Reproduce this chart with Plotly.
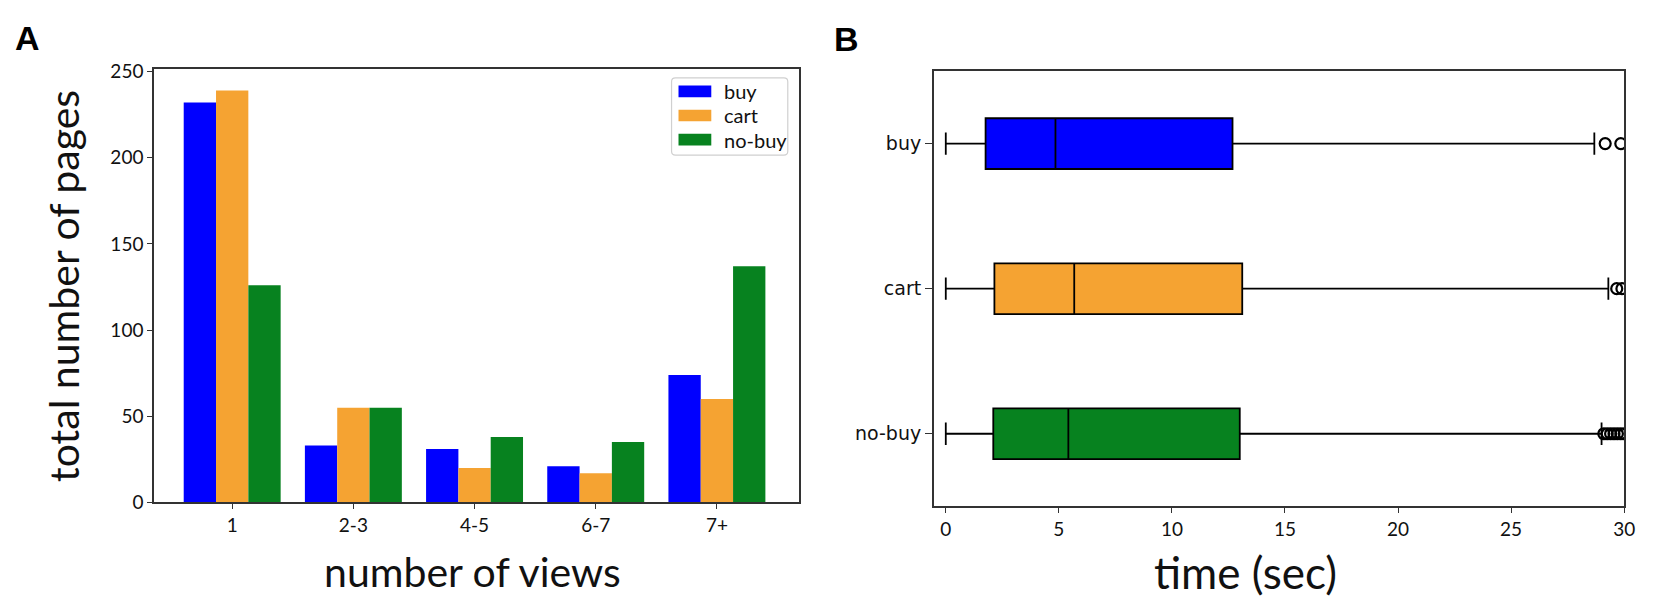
import plotly.graph_objects as go

# ---------------- data ----------------
view_bins = ['1', '2-3', '4-5', '6-7', '7+']
buy_counts = [232, 33, 31, 21, 74]
cart_counts = [239, 55, 20, 17, 60]
nobuy_counts = [126, 55, 38, 35, 137]

groups = ['buy', 'cart', 'no-buy']
q1_vals = [1.76, 2.15, 2.10]
median_vals = [4.85, 5.68, 5.42]
q3_vals = [12.68, 13.11, 13.00]
low_whisk = [0.0, 0.0, 0.0]
high_whisk = [28.68, 29.30, 29.00]
outliers_buy = [29.16, 29.85]
outliers_cart = [29.67, 29.90]
outliers_nobuy = [29.10, 29.25, 29.40, 29.55, 29.70, 29.85, 30.00]

y_ticks_left = [0, 50, 100, 150, 200, 250]
x_ticks_right = [0, 5, 10, 15, 20, 25, 30]

# ---------------- style ----------------
C_BLUE = '#0000FF'
C_ORANGE = '#F5A332'
C_GREEN = '#07821F'
AX = '#333333'
FONT_L = 'Lato, Carlito, Calibri, sans-serif'
FONT_R = 'DejaVu Sans, sans-serif'

W, H = 1654, 600


def px(x):
    return x / W


def py(y):
    return 1 - y / H


fig = go.Figure()

series = [('buy', buy_counts, C_BLUE), ('cart', cart_counts, C_ORANGE), ('no-buy', nobuy_counts, C_GREEN)]
for name, vals, col in series:
    fig.add_trace(go.Bar(x=view_bins, y=vals, name=name, marker=dict(color=col, line=dict(width=0)),
                         xaxis='x', yaxis='y', showlegend=False))

box_cols = [C_BLUE, C_ORANGE, C_GREEN]
for i, g in enumerate(groups):
    fig.add_trace(go.Box(
        y=[g], q1=[q1_vals[i]], median=[median_vals[i]], q3=[q3_vals[i]],
        lowerfence=[low_whisk[i]], upperfence=[high_whisk[i]],
        orientation='h', fillcolor=box_cols[i], line=dict(color='black', width=1.8),
        width=0.35, whiskerwidth=0.44, boxpoints=False, xaxis='x2', yaxis='y2', showlegend=False,
        hoverinfo='skip'))

for g, pts in zip(groups, [outliers_buy, outliers_cart, outliers_nobuy]):
    fig.add_trace(go.Scatter(x=pts, y=[g] * len(pts), mode='markers',
                             marker=dict(symbol='circle-open', size=11, color='black', line=dict(width=2.2)),
                             xaxis='x2', yaxis='y2', showlegend=False, cliponaxis=True))

axis_common = dict(showline=True, mirror=True, linecolor=AX, linewidth=1.6, ticks='outside', ticklen=5,
                   tickcolor=AX, tickwidth=1.3, showgrid=False, zeroline=False)

fig.update_layout(
    width=W, height=H, margin=dict(l=0, r=0, t=0, b=0),
    paper_bgcolor='white', plot_bgcolor='white',
    barmode='group', bargap=0.2, bargroupgap=0,
    xaxis=dict(domain=[px(147), px(796)], anchor='y', type='category', range=[-0.645, 4.675],
               tickfont=dict(family=FONT_L, size=19, color='#111'), **axis_common),
    yaxis=dict(domain=[py(502), py(53)], anchor='x', range=[0, 251.4], tickvals=y_ticks_left,
               tickfont=dict(family=FONT_L, size=19, color='#111'), **axis_common),
    xaxis2=dict(domain=[px(932), px(1627)], anchor='y2', range=[-0.53, 30.0], tickvals=x_ticks_right,
                tickfont=dict(family=FONT_L, size=19, color='#111'), **axis_common),
    yaxis2=dict(domain=[py(506), py(55)], anchor='x2', type='category', categoryorder='array',
                categoryarray=['no-buy', 'cart', 'buy'], range=[-0.5, 2.5],
                tickfont=dict(family=FONT_R, size=19, color='#111'), **{**axis_common, 'ticklen': 7}),
)

annots = [
    dict(text='number of views', x=px(468), y=py(574), font=dict(family=FONT_L, size=41, color='#111')),
    dict(text='time (sec)', x=px(1246), y=py(574), font=dict(family=FONT_L, size=44, color='#111')),
    dict(text='total number of pages', x=px(56), y=py(278), textangle=-90,
         font=dict(family=FONT_L, size=41, color='#111')),
    dict(text='<b>A</b>', x=px(20), y=py(21), font=dict(family='Liberation Sans, Arial, sans-serif', size=34, color='black')),
    dict(text='<b>B</b>', x=px(844), y=py(22), font=dict(family='Liberation Sans, Arial, sans-serif', size=34, color='black')),
]
for a in annots:
    fig.add_annotation(xref='paper', yref='paper', showarrow=False, xanchor='center', yanchor='middle', **a)

# manual legend (matplotlib-style patches)
shapes = [dict(type='path', xref='paper', yref='paper',
               path=(f"M {px(672)},{py(62)} L {px(781)},{py(62)} Q {px(785)},{py(62)} {px(785)},{py(66)} "
                     f"L {px(785)},{py(138)} Q {px(785)},{py(142)} {px(781)},{py(142)} "
                     f"L {px(672)},{py(142)} Q {px(668)},{py(142)} {px(668)},{py(138)} "
                     f"L {px(668)},{py(66)} Q {px(668)},{py(62)} {px(672)},{py(62)} Z"),
               line=dict(color='#d0d0d0', width=1.2), fillcolor='rgba(255,255,255,0.85)')]
for i, (name, _, col) in enumerate(series):
    yc = 76 + 25 * i
    shapes.append(dict(type='rect', xref='paper', yref='paper', x0=px(675), x1=px(708), y0=py(yc + 6),
                       y1=py(yc - 6), fillcolor=col, line=dict(width=0)))
    fig.add_annotation(xref='paper', yref='paper', showarrow=False, xanchor='left', yanchor='middle',
                       x=px(719), y=py(yc), text=name, font=dict(family=FONT_L, size=20, color='#111'))
fig.update_layout(shapes=shapes)

fig.write_html('out.html')
